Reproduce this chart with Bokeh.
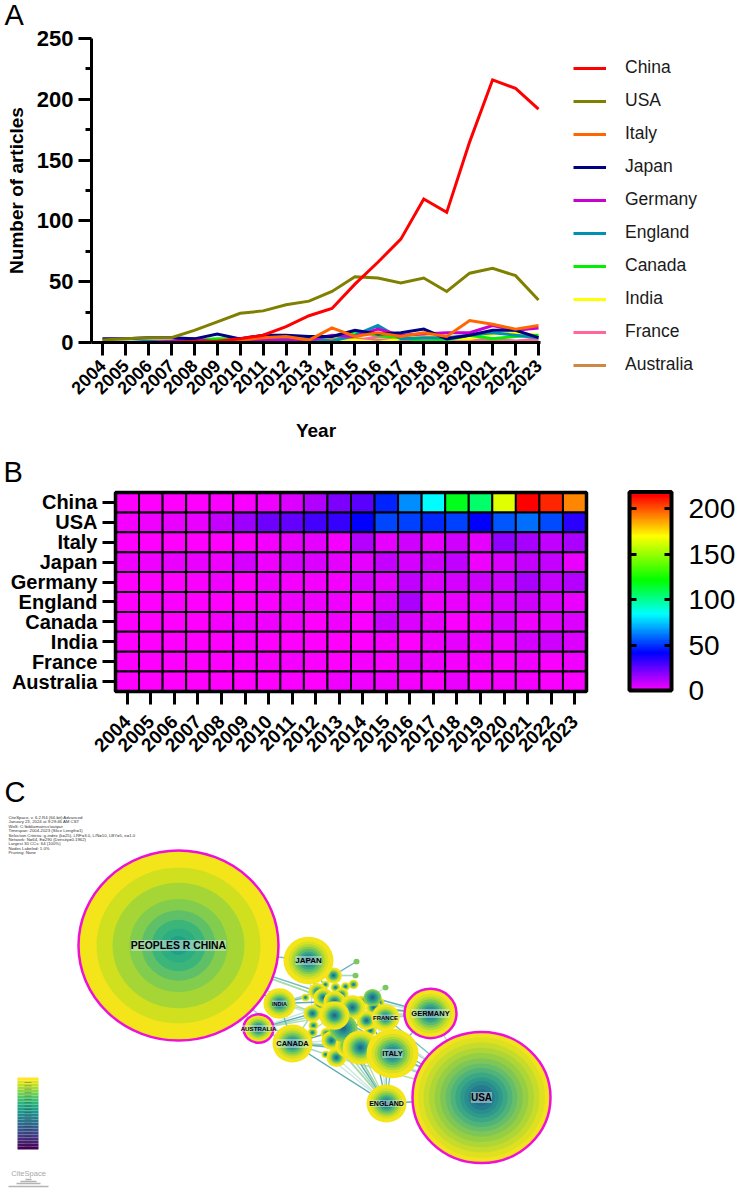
import numpy as np
from bokeh.embed import file_html
from bokeh.resources import INLINE
from bokeh.plotting import figure
from bokeh.layouts import column
from bokeh.core.properties import value
from bokeh.models import (ColumnDataSource, FixedTicker, Label, LabelSet, Legend, LegendItem,
                          LinearAxis, LinearColorMapper, Range1d)
from bokeh.palettes import Viridis256

years = list(range(2004, 2024))
countries = ["China", "USA", "Italy", "Japan", "Germany", "England", "Canada", "India", "France", "Australia"]
china = [0, 0, 0, 0, 1, 1, 3, 6, 13, 22, 28, 48, 66, 85, 118, 107, 165, 216, 209, 192]
usa = [2, 3, 4, 4, 10, 17, 24, 26, 31, 34, 42, 54, 53, 49, 53, 42, 57, 61, 55, 35]
italy = [0, 0, 0, 0, 0, 0, 2, 4, 5, 2, 12, 5, 8, 5, 8, 5, 18, 15, 11, 14]
japan = [3, 3, 4, 4, 3, 7, 3, 6, 6, 5, 5, 10, 7, 8, 11, 3, 6, 10, 10, 4]
germany = [0, 0, 0, 1, 3, 0, 3, 2, 2, 2, 6, 5, 11, 6, 7, 8, 8, 14, 10, 12]
england = [0, 0, 1, 0, 0, 0, 1, 3, 3, 3, 1, 6, 14, 3, 4, 4, 6, 8, 6, 4]
canada = [0, 0, 0, 0, 2, 3, 3, 2, 0, 3, 1, 9, 6, 4, 1, 2, 6, 3, 5, 6]
india = [0, 0, 0, 0, 0, 1, 0, 0, 0, 0, 0, 2, 0, 3, 5, 3, 3, 7, 8, 6]
france = [0, 0, 0, 0, 0, 1, 1, 2, 1, 0, 2, 1, 5, 3, 2, 2, 1, 3, 1, 3]
australia = [0, 0, 0, 0, 0, 0, 0, 1, 0, 3, 3, 3, 2, 1, 4, 1, 2, 2, 1, 1]
series = [china, usa, italy, japan, germany, england, canada, india, france, australia]
line_colors = ["#ff0000", "#808000", "#ff6600", "#000080", "#c800d0", "#0090b0", "#00f000", "#ffff00", "#ff6699", "#cc8844"]
y_ticks = [0, 50, 100, 150, 200, 250]
bar_ticks = [0, 50, 100, 150, 200]

# CiteSpace network (node centre, node size, label)
node_x = [178, 481, 308, 279, 258, 292, 430, 385, 392, 386,
          333, 355, 317, 334, 341, 325, 335, 345, 353, 319, 312, 334, 352, 361, 372, 373, 379, 366, 378, 370,
          313, 312, 326, 343, 331, 348, 360, 336, 325, 352, 323, 305, 356, 385]
node_y = [945, 1097, 960, 1003, 1028, 1043, 1013, 1017, 1053, 1103,
          975, 975, 991, 1001, 994, 984, 987, 986, 984, 1004, 1013, 1015, 1007, 1001, 997, 1007, 1002, 1020, 1025, 1030,
          1025, 1032, 1033, 1028, 1040, 1045, 1047, 1057, 1054, 1058, 997, 997, 961, 987]
node_r = [100, 69, 25, 16, 15, 20, 26, 14, 26, 20,
          8.5, 3, 9, 11, 7, 4, 5, 4.5, 5, 6, 9, 15, 13, 6, 9, 8, 5, 10, 4, 6,
          5, 5, 6, 14, 10, 13, 18, 10, 4, 4, 10, 4, 3, 3]
green_tips = [11, 42, 43]
no_rim = [24, 33]
magenta_nodes = [0, 1, 4, 6]
node_labels = ["PEOPLES R CHINA", "USA", "JAPAN", "INDIA", "AUSTRALIA", "CANADA", "GERMANY", "FRANCE", "ITALY", "ENGLAND"]
label_sizes = ["10.4px", "10px", "8px", "5.5px", "6.2px", "7.5px", "7.5px", "6px", "7.5px", "7px"]
edge_a = [0] * 8 + [2] * 4 + [3] * 5 + [4] * 5 + [5] * 10 + [6] * 8 + [1] * 11 + [9] * 14 + [8] * 4 + [7] * 4 + [10, 22, 10]
edge_b = [13, 12, 20, 3, 4, 5, 2, 40,
          13, 20, 12, 19,
          21, 13, 20, 12, 41,
          21, 20, 13, 22, 5,
          21, 33, 34, 37, 35, 36, 8, 9, 20, 3,
          22, 25, 27, 7, 8, 21, 24, 26,
          8, 7, 6, 21, 36, 35, 33, 37, 9, 22, 27,
          8, 36, 35, 37, 34, 33, 21, 5, 38, 39, 7, 32, 29, 28,
          21, 33, 36, 27,
          21, 22, 33, 36,
          42, 43, 11]
edge_colors = ["#8fd0c0", "#5fb4b4", "#a8dc98", "#45a0a8", "#bfe3da"]
meta_lines = ["CiteSpace, v. 6.2.R4 (64-bit) Advanced", "January 23, 2024 at 9:29:46 AM CST",
              "WoS: C:\\bibliomatrics\\output", "Timespan: 2004-2023 (Slice Length=1)",
              "Selection Criteria: g-index (k=25), LRF=3.0, L/N=10, LBY=5, e=1.0",
              "Network: N=64, E=290 (Density=0.1962)", "Largest 30 CCs: 64 (100%)", "Nodes Labeled: 1.0%", "Pruning: None"]
meta_y = [817, 821.4, 825.8, 830.2, 834.6, 839, 843.4, 847.8, 852.2]
china_ring_f = [1, .82, .66, .49, .37, .27, .18, .10]
china_ring_c = ["#f4e41a", "#d0e01e", "#a5d636", "#82cc4e", "#5fc068", "#3cb57a", "#2cad82", "#20a086"]
usa_ring_f = [1, .92, .84, .76, .68, .60, .52, .45, .38, .31, .25, .19, .13, .07]
usa_ring_c = ["#f2e31c", "#dfe020", "#c6db2a", "#aed636", "#96ce44", "#7fc657", "#66bd6a", "#4fb37a", "#3ca785",
              "#2f9a8c", "#298c8e", "#247c8d", "#21718d", "#1f668b"]
node_ring_f = [1, .8, .68, .58, .48, .38, .28, .18, .1]
node_ring_c = ["#f4e41a", "#d8e022", "#b0d836", "#84cc50", "#5cbc6c", "#3aa884", "#2a9490", "#24808e", "#206a8a"]
tip_color = "#7cc860"

BOLD = value("Liberation Sans")
W = 738
SQUASH = 0.95


def letter(p, txt, x, y):
    p.add_layout(Label(x=x, y=y, x_units="canvas", y_units="canvas", text=txt, text_font_size="29px",
                       text_font="Liberation Sans", text_color="black", text_baseline="alphabetic"))


# ---------- A (frame fills the figure, so that axes, legend and letters are not clipped)
HA = 450
px_year = (538 - 102) / 19
px_unit = (342 - 38) / 250
x0 = 2004 - 102 / px_year
y0 = -(HA - 342) / px_unit
pa = figure(width=W, height=HA, output_backend="svg", toolbar_location=None, frame_align=False,
            x_range=Range1d(x0, x0 + W / px_year), y_range=Range1d(y0, y0 + HA / px_unit), min_border=0)
pa.grid.visible = False
pa.outline_line_color = None
renders = {}
for name, vals, col in reversed(list(zip(countries, series, line_colors))):
    renders[name] = pa.line(years, vals, line_color=col, line_width=3, line_join="miter")
xa = pa.xaxis[0]
xa.fixed_location = 0
xa.ticker = FixedTicker(ticks=years)
xa.bounds = (2004 - 11 / px_year, 2023 + 2 / px_year)
xa.axis_label = "Year"
ya = pa.yaxis[0]
ya.fixed_location = 2004 - 11 / px_year
ya.ticker = FixedTicker(ticks=y_ticks, minor_ticks=[25, 75, 125, 175, 225])
ya.bounds = (0, 250)
ya.axis_label = "Number of articles"
for ax in (xa, ya):
    ax.axis_line_width = 3
    ax.axis_line_color = "black"
    ax.major_tick_line_width = 3
    ax.major_tick_line_color = "black"
    ax.major_tick_out = 13
    ax.major_tick_in = 0
    ax.axis_label_text_font = "Liberation Sans"
    ax.axis_label_text_font_style = "bold"
    ax.axis_label_text_font_size = "19px"
    ax.axis_label_text_color = "black"
    ax.major_label_text_font = "Liberation Sans"
    ax.major_label_text_font_style = "bold"
    ax.major_label_text_color = "black"
xa.major_label_orientation = np.pi / 4
xa.major_label_text_font_size = "18px"
xa.major_label_standoff = 7
xa.minor_tick_line_color = None
xa.axis_label_standoff = 17
ya.major_label_text_font_size = "22px"
ya.major_label_standoff = 5
ya.minor_tick_line_width = 3
ya.minor_tick_line_color = "black"
ya.minor_tick_out = 6
ya.minor_tick_in = 0
ya.axis_label_standoff = 7
leg = Legend(items=[LegendItem(label=n, renderers=[renders[n]]) for n in countries],
             location=(573, HA - 375), orientation="vertical", glyph_width=33, glyph_height=20, label_standoff=19,
             spacing=12, padding=0, margin=0, border_line_color=None, background_fill_alpha=0,
             label_text_font="Liberation Sans", label_text_font_size="17.5px", label_text_color="#1a1a1a",
             label_height=20)
pa.add_layout(leg)
letter(pa, "A", 4, 14)

# ---------- B (numeric scales on a full-figure frame: columns = years, rows = countries)
HB = 320
cell_w = (586 - 115) / 20
cell_h = (691 - 492) / 10
bx0 = -0.5 - 115 / cell_w
by_top = -0.5 - (492 - 450) / cell_h
stops_v = [0, 42, 85, 122, 171, 216, 218]
stops_c = [(255, 0, 255), (0, 0, 255), (0, 255, 255), (0, 255, 0), (255, 255, 0), (255, 0, 0), (255, 0, 0)]
grid = np.linspace(0, 218, 256)
palette = ["#%02x%02x%02x" % tuple(int(round(np.interp(g, stops_v, [c[i] for c in stops_c]))) for i in range(3)) for g in grid]
mapper = LinearColorMapper(palette=palette, low=0, high=218)
pb = figure(width=W, height=HB, output_backend="svg", toolbar_location=None, frame_align=False, min_border=0,
            x_range=Range1d(bx0, bx0 + W / cell_w), y_range=Range1d(by_top + HB / cell_h, by_top))
pb.grid.visible = False
pb.outline_line_color = None
pb.extra_x_ranges["page"] = Range1d(0, W)
bar_unit = (690 - 508) / 200
pb.extra_y_ranges["bar"] = Range1d(-(770 - 690) / bar_unit, (690 - 450) / bar_unit)
src = ColumnDataSource(dict(
    x=[i for _ in countries for i in range(len(years))],
    y=[r for r in range(len(countries)) for _ in years],
    v=[v for s in series for v in s]))
pb.rect(x="x", y="y", width=1, height=1, source=src, fill_color={"field": "v", "transform": mapper},
        line_color="black", line_width=2)
pb.quad(left=-0.5, right=len(years) - 0.5, top=-0.5, bottom=len(countries) - 0.5, fill_color=None,
        line_color="black", line_width=3.5)
xb = pb.xaxis[0]
yb = pb.yaxis[0]
xb.fixed_location = len(countries) - 0.5
yb.fixed_location = -0.5
xb.ticker = FixedTicker(ticks=list(range(len(years))))
yb.ticker = FixedTicker(ticks=list(range(len(countries))))
xb.major_label_overrides = {i: str(y) for i, y in enumerate(years)}
yb.major_label_overrides = {i: c for i, c in enumerate(countries)}
for ax in (xb, yb):
    ax.axis_line_color = None
    ax.minor_tick_line_color = None
    ax.major_tick_line_width = 3
    ax.major_tick_line_color = "black"
    ax.major_tick_out = 13
    ax.major_tick_in = 0
    ax.major_label_text_color = "black"
    ax.major_label_text_font_style = "bold"
    ax.major_label_text_font = "Liberation Sans"
yb.major_label_text_font_size = "20px"
yb.major_label_standoff = 5
xb.major_label_text_font_size = "19px"
xb.major_label_orientation = np.pi / 4
xb.major_label_standoff = 14
# colour scale
bar_vals = np.arange(0, 218)
pb.quad(left=630, right=670, bottom=bar_vals, top=bar_vals + 1, x_range_name="page", y_range_name="bar",
        fill_color={"field": "top", "transform": mapper}, line_color={"field": "top", "transform": mapper}, line_width=1)
pb.quad(left=629, right=671, bottom=0, top=218, x_range_name="page", y_range_name="bar",
        fill_color=None, line_color="black", line_width=4)
for side, loc in (("left", 629), ("right", 671)):
    ax = LinearAxis(x_range_name="page", y_range_name="bar", fixed_location=loc,
                    ticker=FixedTicker(ticks=bar_ticks), axis_line_color=None, minor_tick_line_color=None,
                    major_tick_line_color="black", major_tick_line_width=3, major_tick_in=7, major_tick_out=0,
                    major_label_text_font="Liberation Sans", major_label_text_font_size="28px",
                    major_label_text_color="black" if side == "right" else None, major_label_standoff=17)
    pb.add_layout(ax, side)
letter(pb, "B", 3, 21)

# ---------- C
HC = 1193 - 770
pc = figure(width=W, height=HC, output_backend="svg", toolbar_location=None, frame_align=False,
            x_range=Range1d(0, 738), y_range=Range1d(1193, 770), min_border=0)
pc.axis.visible = False
pc.grid.visible = False
pc.outline_line_color = None
ex, ey, ec = [], [], []
for k, (a, b) in enumerate(zip(edge_a, edge_b)):
    ex.append([node_x[a], node_x[b]])
    ey.append([node_y[a], node_y[b]])
    ec.append(edge_colors[k % len(edge_colors)])
pc.multi_line(ex, ey, line_color=ec, line_width=1.4, line_alpha=0.85)

rx, ry, rw, rh, rc = [], [], [], [], []
order = sorted(range(len(node_r)), key=lambda i: (i < 10, node_r[i]))
for i in order:
    if i == 0:
        fr, cl = china_ring_f, china_ring_c
    elif i == 1:
        fr, cl = usa_ring_f, usa_ring_c
    elif i in green_tips:
        fr, cl = [1], [tip_color]
    elif i in no_rim:
        fr, cl = node_ring_f[3:], node_ring_c[3:]
    else:
        fr, cl = node_ring_f, node_ring_c
    for f, c in zip(fr, cl):
        if i in no_rim:
            f = f / node_ring_f[3]
        rx.append(node_x[i]); ry.append(node_y[i]); rw.append(2 * node_r[i] * f)
        rh.append(2 * node_r[i] * f * SQUASH); rc.append(c)
pc.ellipse(x=rx, y=ry, width=rw, height=rh, fill_color=rc, line_color=None)
pc.ellipse(x=[node_x[i] for i in magenta_nodes], y=[node_y[i] for i in magenta_nodes],
           width=[2 * node_r[i] for i in magenta_nodes], height=[2 * node_r[i] * SQUASH for i in magenta_nodes],
           fill_color=None, line_color="#ee10d8", line_width=2.5)
lab = ColumnDataSource(dict(x=node_x[:10], y=node_y[:10], t=node_labels, s=label_sizes))
pc.add_layout(LabelSet(x="x", y="y", text="t", source=lab, text_font_size={"field": "s"}, text_font=value("Liberation Sans"),
                       text_font_style="bold", text_align="center", text_baseline="middle", text_color="black",
                       background_fill_color="#e8f0f0", background_fill_alpha=0.45))
pc.text(x=[8] * len(meta_lines), y=meta_y, text=meta_lines, text_font=BOLD, text_font_size="4.3px",
        text_baseline="middle", text_color="#333333")
# colour ramp legend
steps = 24
edges = np.linspace(1149, 1077, steps + 1)
pc.quad(left=17, right=38, bottom=edges[:-1], top=edges[1:], line_color=None,
        fill_color=[Viridis256[int(i * 255 / (steps - 1))] for i in range(steps)])
pc.segment(x0=[24] * 20, x1=[31] * 20, y0=np.linspace(1082, 1146, 20), y1=np.linspace(1082, 1146, 20), line_color="#222222", line_alpha=0.3, line_width=1)
# logo
pc.text(x=[28], y=[1173], text=["CiteSpace"], text_font=BOLD, text_font_size="7.5px", text_color="#a8a8a8",
        text_align="center", text_baseline="middle")
pc.segment(x0=[8, 16, 20, 25], x1=[48, 40, 36, 31], y0=[1186, 1183, 1181, 1179], y1=[1186, 1183, 1181, 1179],
           line_color="#b4b4b4", line_width=1.5)
letter(pc, "C", 4, 21)

page = column(pa, pb, pc, spacing=0, margin=0)
open("out.html", "w").write(file_html(page, INLINE))
